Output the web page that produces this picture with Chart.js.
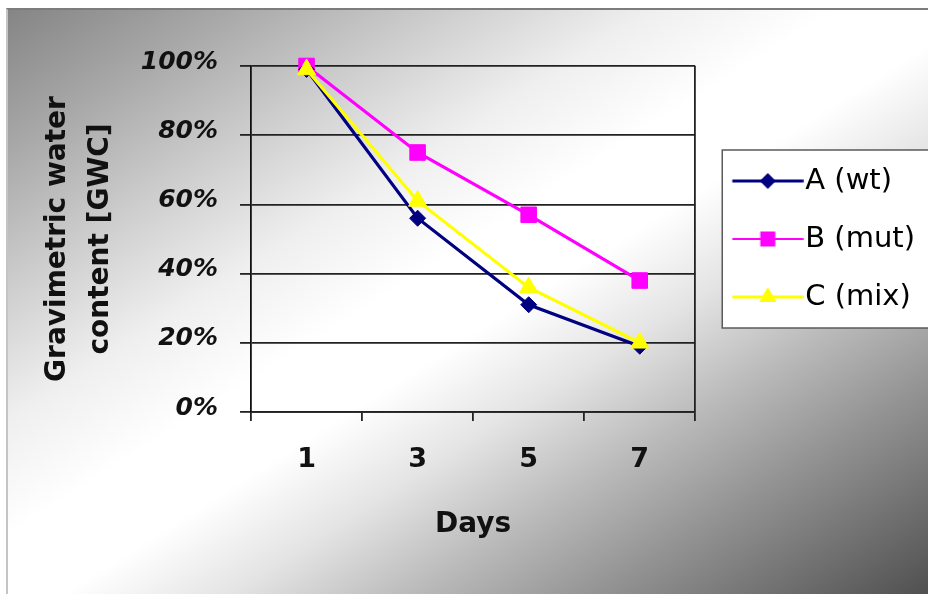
<!DOCTYPE html>
<html>
<head>
<meta charset="utf-8">
<title>Gravimetric water content</title>
<script src="https://cdn.jsdelivr.net/npm/chart.js@4.4.1/dist/chart.umd.min.js"></script>
<style>
  html, body { margin: 0; padding: 0; background: #ffffff; }
  #wrap { position: relative; width: 928px; height: 594px; overflow: hidden; }
  #panel {
    position: absolute; left: 6px; top: 8px; right: 0; bottom: 0;
    border-top: 2px solid #7c7c7c; border-left: 2px solid #c4c4c4;
    background: linear-gradient(to bottom right,
      #858585 0%, #a8a8a8 12%, #cecece 24%, #efefef 35%, #ffffff 45%,
      #ffffff 53%, #e4e4e4 62%, #bababa 72%, #939393 82%, #6e6e6e 92%, #505050 100%);
  }
  #chart { position: absolute; left: 0; top: 0; }
</style>
</head>
<body>
<div id="wrap">
  <div id="panel"></div>
  <canvas id="chart" width="928" height="594"></canvas>
</div>
<script>
// Sampling days (category axis)
const days = ['1', '3', '5', '7'];

// Series names
const seriesNames = ['A (wt)', 'B (mut)', 'C (mix)'];

// Gravimetric water content, percent of day-1 value
const gwcA = [99, 56, 31, 19];
const gwcB = [100, 75, 57, 38];
const gwcC = [99, 61, 36, 20];

// Value axis range and step (percent)
const yMin = 0;
const yMax = 100;
const yStep = 20;

const FONT = 'DejaVu Sans';
const NAVY = '#000080';
const MAGENTA = '#ff00ff';
const YELLOW = '#ffff00';
const FRAME = '#222222';

// Legend symbol: a short line segment with the series marker in its middle
function legendGlyph(color, shape, lineWidth, size) {
  const g = document.createElement('canvas');
  g.width = 92; g.height = 24;
  const c = g.getContext('2d');
  const cx = 56.25, cy = 12;
  c.strokeStyle = color;
  c.lineWidth = lineWidth;
  c.beginPath();
  c.moveTo(20.75, cy);
  c.lineTo(91.75, cy);
  c.stroke();
  c.fillStyle = color;
  c.beginPath();
  if (shape === 'diamond') {
    c.moveTo(cx, cy - size); c.lineTo(cx + size, cy);
    c.lineTo(cx, cy + size); c.lineTo(cx - size, cy);
  } else if (shape === 'square') {
    c.rect(cx - size, cy - size, 2 * size, 2 * size);
  } else {
    c.moveTo(cx, cy - size);
    c.lineTo(cx + size * 0.866, cy + size * 0.5);
    c.lineTo(cx - size * 0.866, cy + size * 0.5);
  }
  c.closePath();
  c.fill();
  return g;
}

const glyphs = [
  legendGlyph(NAVY, 'diamond', 3, 8),
  legendGlyph(MAGENTA, 'square', 2, 7.5),
  legendGlyph(YELLOW, 'triangle', 3, 10)
];

// White, framed box behind the legend entries
const legendFrame = {
  id: 'legendFrame',
  beforeDraw(chart) {
    const lg = chart.legend;
    if (!lg || !lg.legendHitBoxes || !lg.legendHitBoxes.length) return;
    const boxes = lg.legendHitBoxes;
    const first = boxes[0], last = boxes[boxes.length - 1];
    const x = first.left - 2;
    const top = first.top - 16.5;
    const bottom = last.top + last.height + 16.5;
    const ctx = chart.ctx;
    ctx.save();
    ctx.fillStyle = '#ffffff';
    ctx.fillRect(x, top, chart.width - x + 4, bottom - top);
    ctx.strokeStyle = '#5a5a5a';
    ctx.lineWidth = 1.5;
    ctx.strokeRect(x, top, chart.width - x + 4, bottom - top);
    ctx.restore();
  }
};

const series = [gwcA, gwcB, gwcC];
const colors = [NAVY, MAGENTA, YELLOW];
const shapes = ['rectRot', 'rect', 'triangle'];
const radii = [8, 11, 10.5];
const drawOrder = [2, 3, 1];

const datasets = series.map((values, i) => ({
  label: seriesNames[i],
  data: values,
  borderColor: colors[i],
  backgroundColor: colors[i],
  borderWidth: 3.2,
  pointStyle: shapes[i],
  pointRadius: radii[i],
  pointBackgroundColor: colors[i],
  pointBorderColor: colors[i],
  pointBorderWidth: 1,
  tension: 0,
  clip: false,
  order: drawOrder[i]
}));

new Chart(document.getElementById('chart'), {
  type: 'line',
  data: { labels: days, datasets },
  plugins: [legendFrame],
  options: {
    responsive: false,
    animation: false,
    layout: { padding: { left: 36, top: 66, right: 3, bottom: 52 } },
    plugins: {
      tooltip: { enabled: false },
      legend: {
        position: 'right',
        fullSize: false,
        maxWidth: 320,
        labels: {
          usePointStyle: true,
          pointStyleWidth: 66.5,
          padding: 29,
          color: '#000000',
          font: { family: FONT, size: 29 },
          sort: (a, b) => a.datasetIndex - b.datasetIndex,
          generateLabels(chart) {
            const items = Chart.defaults.plugins.legend.labels.generateLabels(chart);
            items.forEach(it => { it.pointStyle = glyphs[it.datasetIndex]; });
            return items;
          }
        }
      }
    },
    scales: {
      x: {
        offset: true,
        grid: {
          offset: true,
          // only the closing line on the right edge of the plot is drawn across
          color: c => (c.type === 'tick' ? 'rgba(0,0,0,0)' : FRAME),
          tickColor: FRAME,
          tickLength: 9,
          lineWidth: 1.8
        },
        border: { color: FRAME, width: 1.8 },
        ticks: {
          color: '#111111',
          padding: 23,
          font: { family: FONT, size: 27, weight: 'bold' }
        },
        title: {
          display: true,
          text: 'Days',
          color: '#111111',
          padding: { top: 9, bottom: 0 },
          font: { family: FONT, size: 28, weight: 'bold' }
        }
      },
      y: {
        min: yMin,
        max: yMax,
        grid: { color: FRAME, lineWidth: 1.8, tickLength: 11 },
        border: { color: '#111111', width: 1.8 },
        ticks: {
          stepSize: yStep,
          color: '#111111',
          padding: 22,
          labelOffset: -4,
          font: { family: FONT, size: 25, weight: 'bold', style: 'italic' },
          callback: v => v + '%'
        },
        title: {
          display: true,
          text: ['Gravimetric water', 'content [GWC]'],
          color: '#111111',
          padding: { top: 0, bottom: -4 },
          font: { family: FONT, size: 28, weight: 'bold', lineHeight: 1.55 }
        }
      }
    }
  }
});
</script>
</body>
</html>
